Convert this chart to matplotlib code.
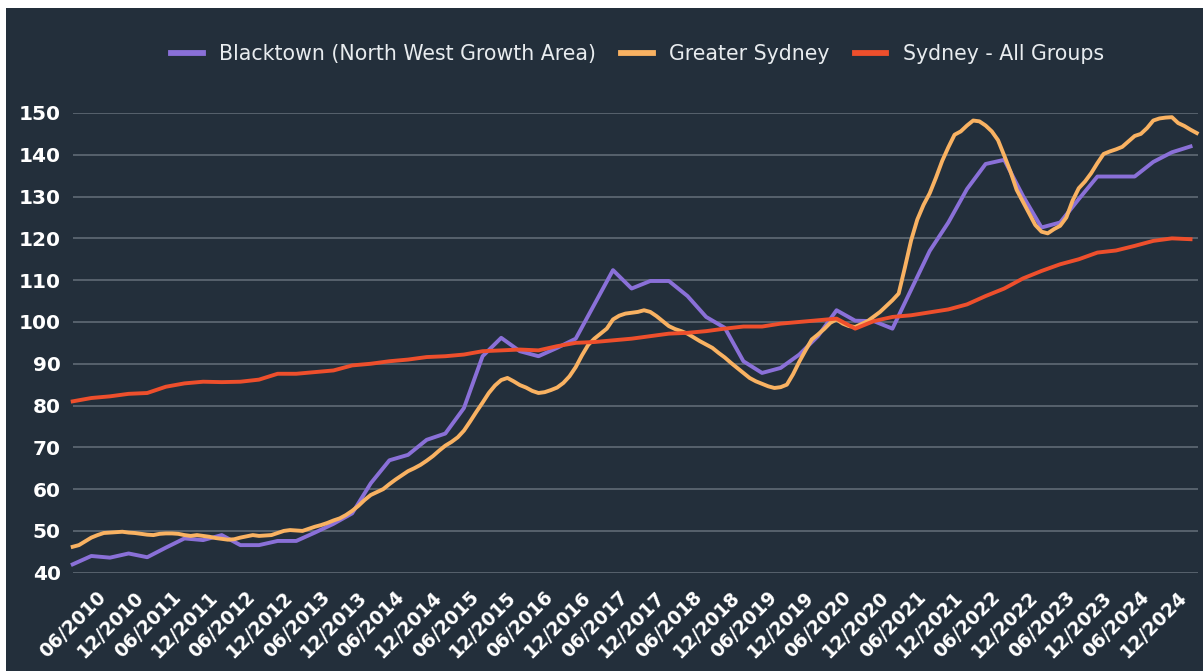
import numpy as np
import matplotlib
matplotlib.use("Agg")
import matplotlib.pyplot as plt
from matplotlib.patches import Rectangle

# ---- data (month index 0 = 12/2009) ----
series_names = ["Blacktown (North West Growth Area)", "Greater Sydney", "Sydney - All Groups"]

# quarterly, 12/2009 .. 12/2024
blacktown = [42.0, 44.0, 43.6, 44.6, 43.7, 46.0, 48.2, 47.8, 49.0, 46.6,
             46.6, 47.6, 47.6, 49.6, 51.7, 54.2, 61.4, 66.9, 68.2, 71.8,
             73.3, 79.4, 91.8, 96.2, 93.0, 91.8, 93.8, 96.0, 104.2, 112.4,
             108.0, 109.8, 109.8, 106.2, 101.2, 98.6, 90.6, 87.8, 89.0, 92.2,
             96.6, 102.8, 100.3, 100.2, 98.4, 107.7, 117.0, 123.8, 131.8, 137.8,
             138.8, 130.2, 122.6, 123.8, 129.4, 134.8, 134.8, 134.8, 138.3, 140.6,
             142.0]

sydney_cpi = [81.0, 81.8, 82.2, 82.8, 83.0, 84.5, 85.3, 85.7, 85.6, 85.7,
              86.2, 87.6, 87.6, 88.0, 88.4, 89.6, 90.0, 90.6, 91.0, 91.6,
              91.8, 92.2, 93.0, 93.2, 93.4, 93.2, 94.2, 95.0, 95.2, 95.6,
              96.0, 96.6, 97.2, 97.4, 97.8, 98.4, 98.9, 98.9, 99.6, 100.0,
              100.4, 100.8, 98.4, 100.2, 101.2, 101.6, 102.3, 103.0, 104.2, 106.2,
              108.0, 110.4, 112.2, 113.8, 115.0, 116.6, 117.1, 118.2, 119.4, 120.0,
              119.8]

# monthly, 12/2009 .. 01/2025
greater_sydney = [
    46.2, 46.6, 47.5, 48.4, 49.0, 49.5, 49.6, 49.7, 49.8, 49.6,
    49.5, 49.3, 49.1, 49.0, 49.3, 49.4, 49.4, 49.3, 49.0, 48.8,
    49.0, 48.8, 48.6, 48.3, 48.1, 47.9, 48.0, 48.4, 48.7, 49.0,
    48.8, 48.9, 49.0, 49.5, 50.0, 50.2, 50.1, 50.0, 50.5, 51.0,
    51.4, 51.9, 52.5, 53.0, 53.8, 54.8, 56.0, 57.4, 58.6, 59.3,
    60.0, 61.2, 62.3, 63.3, 64.3, 65.0, 65.8, 66.8, 67.9, 69.2,
    70.4, 71.3, 72.4, 74.0, 76.2, 78.5, 80.7, 83.0, 84.8, 86.1,
    86.6, 85.8, 84.9, 84.3, 83.5, 83.0, 83.2, 83.7, 84.3, 85.4,
    87.0, 89.2, 92.0, 94.5, 96.0, 97.2, 98.4, 100.6, 101.5, 102.0,
    102.2, 102.4, 102.8, 102.4, 101.4, 100.2, 99.0, 98.3, 97.8, 97.2,
    96.3, 95.4, 94.6, 93.8, 92.6, 91.5, 90.2, 89.0, 87.8, 86.6,
    85.8, 85.2, 84.6, 84.2, 84.4, 85.0, 87.5, 90.5, 93.2, 95.8,
    97.0, 98.3, 99.8, 100.6, 99.6, 99.0, 98.8, 99.5, 100.2, 101.3,
    102.4, 103.8, 105.2, 106.8, 113.0, 119.5, 124.5, 128.0, 130.8, 134.5,
    138.5, 141.8, 144.8, 145.6, 147.0, 148.2, 148.0, 147.0, 145.6, 143.5,
    139.8, 136.0, 131.6, 128.8, 126.0, 123.2, 121.6, 121.2, 122.2, 123.0,
    125.0, 129.0, 132.0, 133.6, 135.6, 138.0, 140.2, 140.8, 141.3, 141.9,
    143.2, 144.5, 145.0, 146.4, 148.2, 148.7, 148.9, 149.0, 147.6, 146.9,
    146.0, 145.2]

tick_labels = ["06/2010", "12/2010", "06/2011", "12/2011", "06/2012", "12/2012",
               "06/2013", "12/2013", "06/2014", "12/2014", "06/2015", "12/2015",
               "06/2016", "12/2016", "06/2017", "12/2017", "06/2018", "12/2018",
               "06/2019", "12/2019", "06/2020", "12/2020", "06/2021", "12/2021",
               "06/2022", "12/2022", "06/2023", "12/2023", "06/2024", "12/2024"]
y_ticks = [40, 50, 60, 70, 80, 90, 100, 110, 120, 130, 140, 150]

# ---- style ----
BG = "#232f3b"
C_PURPLE = "#8a70d8"
C_ORANGE = "#f9b262"
C_RED = "#ee4f2c"
GRID = "#5b6671"

W, H = 1203, 671
fig = plt.figure(figsize=(W / 100, H / 100), dpi=100)
fig.patch.set_facecolor("white")
fig.add_artist(Rectangle((6 / W, 0), 1, (H - 8) / H, transform=fig.transFigure,
                         facecolor=BG, edgecolor="none", zorder=-10))

x0, x1 = 72.7, 1198.0
yb, yt = 572.7, 113.0
ax = fig.add_axes([x0 / W, (H - yb) / H, (x1 - x0) / W, (yb - yt) / H])
ax.set_facecolor("none")

xq = np.arange(len(blacktown)) * 3
xm = np.arange(len(greater_sydney))

lw = 2.8
l1, = ax.plot(xq, blacktown, color=C_PURPLE, lw=lw, clip_on=False, zorder=3)
l2, = ax.plot(xm, greater_sydney, color=C_ORANGE, lw=lw, clip_on=False, zorder=4)
l3, = ax.plot(xq, sydney_cpi, color=C_RED, lw=lw, clip_on=False, zorder=5)

ax.set_xlim(0, 181.2)
ax.set_ylim(40, 150)

ax.set_yticks(y_ticks)
ax.set_yticklabels([str(v) for v in y_ticks], color="white", fontsize=14.5,
                   fontweight="bold")
tick_pos = [6 * (i + 1) for i in range(len(tick_labels))]
ax.set_xticks(tick_pos)
ax.set_xticklabels(tick_labels, rotation=45, ha="right", color="white",
                   fontsize=13.6, fontweight="bold")
ax.tick_params(axis="both", length=0)
ax.tick_params(axis="y", pad=8.5)
ax.tick_params(axis="x", pad=10.5)

ax.grid(axis="y", color=GRID, lw=1.3)
ax.grid(axis="x", visible=False)
ax.set_axisbelow(True)
for s in ax.spines.values():
    s.set_visible(False)

leg = fig.legend([l1, l2, l3], series_names, loc="center", ncol=3,
                 bbox_to_anchor=(637.5 / W, 1 - 54 / H), frameon=False,
                 fontsize=14.8, handlelength=1.55, handletextpad=0.8,
                 columnspacing=1.2, labelcolor="#e8ecef")
for h in leg.legend_handles:
    h.set_linewidth(4.2)

fig.savefig("out.png", dpi=100, facecolor=fig.get_facecolor())
